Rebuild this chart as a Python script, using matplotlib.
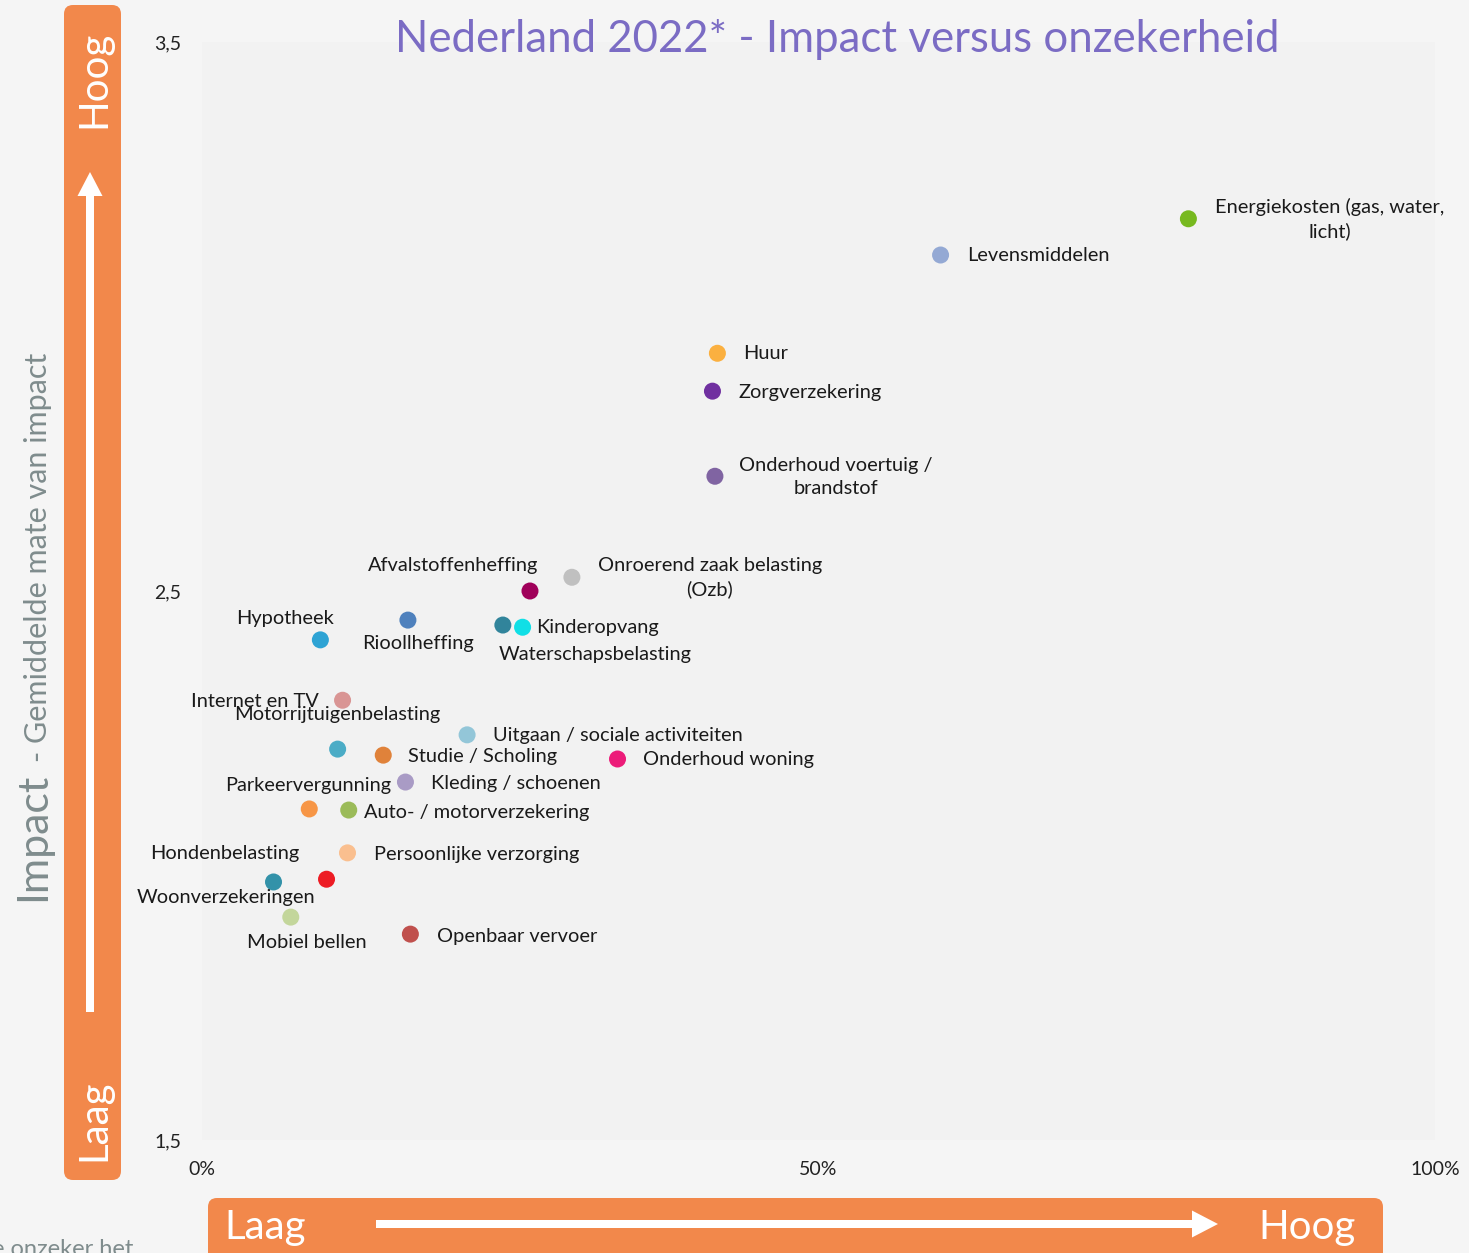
import matplotlib
matplotlib.use("Agg")
import matplotlib.pyplot as plt
from matplotlib.patches import FancyBboxPatch, FancyArrow

plt.rcParams['font.family'] = ['Lato', 'DejaVu Sans']

# ---------------- data ----------------
categories = [
    "Energiekosten (gas, water,\nlicht)", "Levensmiddelen", "Huur", "Zorgverzekering",
    "Onderhoud voertuig /\nbrandstof", "Onroerend zaak belasting\n(Ozb)", "Afvalstoffenheffing",
    "Rioollheffing", "Waterschapsbelasting", "Kinderopvang", "Hypotheek", "Internet en TV",
    "Motorrijtuigenbelasting", "Uitgaan / sociale activiteiten", "Studie / Scholing",
    "Onderhoud woning", "Kleding / schoenen", "Parkeervergunning", "Auto- / motorverzekering",
    "Persoonlijke verzorging", "Hondenbelasting", "Woonverzekeringen", "Mobiel bellen",
    "Openbaar vervoer",
]
onzekerheid = [80.0, 59.9, 41.8, 41.4, 41.6, 30.0, 26.6, 16.7, 24.4, 26.0, 9.6, 11.4,
               11.0, 21.5, 14.7, 33.7, 16.5, 8.7, 11.9, 11.8, 10.1, 5.8, 7.2, 16.9]
impact = [3.178, 3.112, 2.933, 2.864, 2.709, 2.525, 2.500, 2.447, 2.438, 2.434, 2.411, 2.301,
          2.212, 2.238, 2.201, 2.194, 2.152, 2.103, 2.101, 2.023, 1.975, 1.970, 1.906, 1.875]
colors = ["#77b91f", "#94a9d4", "#fbb040", "#7030a0", "#8064a2", "#c0c0c0", "#a0005a",
          "#4f81bd", "#31849b", "#10dfe6", "#2ea3d4", "#d99594", "#4bacc6", "#93c6d8",
          "#e0823a", "#ec1c79", "#a99bc5", "#f79646", "#9bbb59", "#fabf8f", "#ed1c24",
          "#3392a9", "#c3d69b", "#c0504d"]
yticks = [1.5, 2.5, 3.5]
xticks = [0, 50, 100]
title = "Nederland 2022* - Impact versus onzekerheid"

# label placement (pixel offsets dx, dy(down), alignment)
label_pos = [(141, 0, 'center'), (27, 0, 'left'), (26, 0, 'left'), (26, 1, 'left'),
             (121, 1, 'center'), (138, 0, 'center'), (-77, -25, 'center'), (10, 23, 'center'),
             (92, 29, 'center'), (14, 0, 'left'), (-35, -21, 'center'), (-88, 1, 'center'),
             (0, -35, 'center'), (26, 1, 'left'), (25, 1, 'left'), (25, 1, 'left'),
             (26, 1, 'left'), (-1, -23, 'center'), (15, 2, 'left'), (27, 2, 'left'),
             (-102, -26, 'center'), (-48, 16, 'center'), (16, 25, 'center'), (27, 2, 'left')]

W, H = 1469, 1253
fig = plt.figure(figsize=(W / 100, H / 100), dpi=100, facecolor="#f5f5f5")

# overlay in pixel units
ov = fig.add_axes([0, 0, 1, 1], zorder=0)
ov.set_xlim(0, W)
ov.set_ylim(H, 0)
ov.axis('off')

orange = "#f2884b"
ov.add_patch(FancyBboxPatch((64, 5), 57, 1175, boxstyle="round,pad=0,rounding_size=9",
                            fc=orange, ec='none'))
ov.add_patch(FancyBboxPatch((208, 1198), 1175, 80, boxstyle="round,pad=0,rounding_size=9",
                            fc=orange, ec='none', clip_on=False))
ov.add_patch(FancyArrow(90, 1012, 0, -840, width=8, head_width=25, head_length=24,
                        length_includes_head=True, fc='white', ec='none'))
ov.add_patch(FancyArrow(376, 1224, 842, 0, width=8, head_width=27, head_length=26,
                        length_includes_head=True, fc='white', ec='none'))
ov.text(94, 79, "Hoog", rotation=90, ha='center', va='center', color='white', fontsize=29)
ov.text(94, 1120, "Laag", rotation=90, ha='center', va='center', color='white', fontsize=29)
ov.text(265, 1227, "Laag", ha='center', va='center', color='white', fontsize=29)
ov.text(1307, 1227, "Hoog", ha='center', va='center', color='white', fontsize=29)

gray = "#7f8c8d"
ov.text(33, 901, "Impact", rotation=90, ha='center', va='bottom', color=gray, fontsize=31)
ov.text(38, 762, "- Gemiddelde mate van impact", rotation=90, ha='center', va='bottom',
        color=gray, fontsize=22)
ov.text(-8, 1256, "e onzeker het", ha='left', va='baseline', color=gray, fontsize=17)

fig.text(837 / W, 1 - 40 / H, title, ha='center', va='center', color="#7b6cc4",
         fontsize=31.5, zorder=5)

# main axes
ax = fig.add_axes([202 / W, 1 - 1140 / H, (1435 - 202) / W, (1140 - 42) / H], zorder=1)
ax.set_facecolor("#f2f2f2")
for s in ax.spines.values():
    s.set_visible(False)
ax.set_xlim(0, 100)
ax.set_ylim(1.5, 3.5)
ax.set_xticks(xticks)
ax.set_xticklabels([f"{v}%" for v in xticks])
ax.set_yticks(yticks)
ax.set_yticklabels([f"{v:.1f}".replace('.', ',') for v in yticks])
ax.tick_params(axis='y', length=0, pad=15, labelsize=14, labelcolor='#222222')
ax.tick_params(axis='x', length=0, pad=15, labelsize=14, labelcolor='#222222')

ax.scatter(onzekerheid, impact, s=150, c=colors, edgecolors='none', zorder=3)

for name, xv, yv, (dx, dy, ha) in zip(categories, onzekerheid, impact, label_pos):
    ax.annotate(name, (xv, yv), xytext=(dx, -dy), textcoords='offset pixels',
                ha=ha, va='center', multialignment='center', fontsize=14.4,
                linespacing=1.4, color='#1a1a1a', zorder=4)

fig.savefig("out.png", dpi=100, facecolor=fig.get_facecolor())
